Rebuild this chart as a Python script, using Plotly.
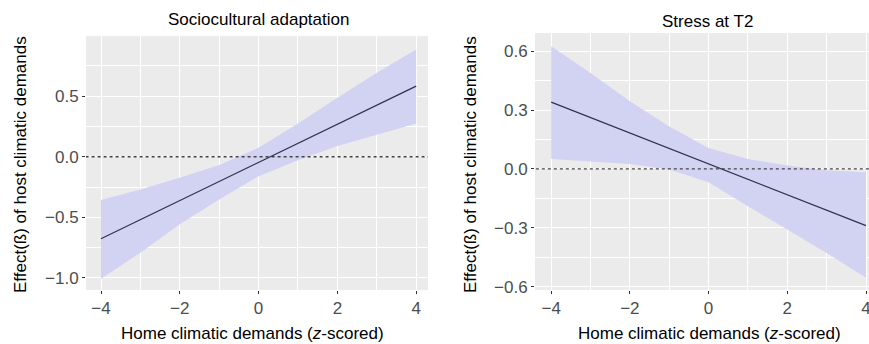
import plotly.graph_objects as go

# ---- data ----
x_vals = [-4, -3, -2, -1, 0, 1, 2, 3, 4]

socio_effect = [-0.677, -0.520, -0.362, -0.205, -0.047, 0.110, 0.268, 0.425, 0.583]
socio_upper = [-0.358, -0.270, -0.173, -0.069, 0.074, 0.275, 0.487, 0.693, 0.886]
socio_lower = [-1.007, -0.792, -0.558, -0.352, -0.160, -0.028, 0.088, 0.184, 0.275]

stress_effect = [0.341, 0.262, 0.183, 0.105, 0.026, -0.053, -0.132, -0.210, -0.289]
stress_upper = [0.625, 0.489, 0.345, 0.217, 0.107, 0.051, 0.017, -0.007, -0.017]
stress_lower = [0.051, 0.039, 0.025, -0.003, -0.068, -0.190, -0.309, -0.428, -0.555]

panel_titles = ["Sociocultural adaptation", "Stress at T2"]
x_title = "Home climatic demands (<i>z</i>-scored)"
y_title = "Effect(ß) of host climatic demands"

x_ticks = [-4, -2, 0, 2, 4]
x_ticktext = ["\u22124", "\u22122", "0", "2", "4"]
socio_yticks = [-1.0, -0.5, 0.0, 0.5]
socio_yticktext = ["\u22121.0", "\u22120.5", "0.0", "0.5"]
stress_yticks = [-0.6, -0.3, 0.0, 0.3, 0.6]
stress_yticktext = ["\u22120.6", "\u22120.3", "0.0", "0.3", "0.6"]

# ---- style ----
FONT = "Liberation Sans, Arial, sans-serif"
BAND = "#D2D2F2"
LINE = "#303050"
BG = "#EBEBEB"
TICKCOL = "#4D4D4D"

fig = go.Figure()

def add_panel(xa, ya, eff, up, lo):
    fig.add_trace(go.Scatter(x=x_vals, y=up, mode="lines", line=dict(width=0),
                             xaxis=xa, yaxis=ya, showlegend=False, hoverinfo="skip"))
    fig.add_trace(go.Scatter(x=x_vals, y=lo, mode="lines", line=dict(width=0),
                             fill="tonexty", fillcolor=BAND,
                             xaxis=xa, yaxis=ya, showlegend=False, hoverinfo="skip"))
    fig.add_trace(go.Scatter(x=[-5, 5], y=[0, 0], mode="lines",
                             line=dict(color="#444444", width=1.3, dash="3px,3px"),
                             xaxis=xa, yaxis=ya, showlegend=False, hoverinfo="skip"))
    fig.add_trace(go.Scatter(x=x_vals, y=eff, mode="lines",
                             line=dict(color=LINE, width=1.2),
                             xaxis=xa, yaxis=ya, showlegend=False))

add_panel("x", "y", socio_effect, socio_upper, socio_lower)
add_panel("x2", "y2", stress_effect, stress_upper, stress_lower)

def xaxis(domain, rng, anchor):
    return dict(domain=domain, range=rng, anchor=anchor, tickmode="array",
                tickvals=x_ticks, ticktext=x_ticktext, showgrid=True,
                gridcolor="white", gridwidth=1.1, zeroline=False,
                ticks="outside", ticklen=3, tickcolor="#333333", tickwidth=1,
                tickfont=dict(family=FONT, size=17, color=TICKCOL),
                minor=dict(tickmode="linear", tick0=-3, dtick=2, showgrid=True,
                           gridcolor="white", gridwidth=0.5, ticks=""),
                showline=False, fixedrange=True, automargin=False,
                ticklabeloverflow="allow")

def yaxis(domain, rng, anchor, tv, tt, minor0, mindt):
    return dict(domain=domain, range=rng, anchor=anchor, tickmode="array",
                tickvals=tv, ticktext=tt, showgrid=True,
                gridcolor="white", gridwidth=1.1, zeroline=False,
                ticks="outside", ticklen=3, tickcolor="#333333", tickwidth=1,
                tickfont=dict(family=FONT, size=17, color=TICKCOL),
                minor=dict(tickmode="linear", tick0=minor0, dtick=mindt, showgrid=True,
                           gridcolor="white", gridwidth=0.5, ticks=""),
                showline=False, fixedrange=True, automargin=False,
                ticklabeloverflow="allow")

fig.update_layout(
    width=869, height=344,
    margin=dict(l=0, r=0, t=0, b=0, autoexpand=False),
    paper_bgcolor="white", plot_bgcolor=BG,
    font=dict(family=FONT, size=16, color="black"),
    xaxis=xaxis([0.0990, 0.4925], [-4.38, 4.30], "y"),
    yaxis=yaxis([0.157, 0.895], [-1.10, 0.996], "x",
                socio_yticks, socio_yticktext, -0.75, 0.5),
    xaxis2=xaxis([0.6157, 1.0], [-4.41, 4.076], "y2"),
    yaxis2=yaxis([0.157, 0.904], [-0.617, 0.693], "x2",
                 stress_yticks, stress_yticktext, -0.45, 0.3),
    showlegend=False,
)

ann = []
# panel titles
ann.append(dict(text=panel_titles[0], x=258, y=20))
ann.append(dict(text=panel_titles[1], x=707, y=21))
# x axis titles
ann.append(dict(text=x_title, x=252, y=333))
ann.append(dict(text=x_title, x=709, y=333))
annotations = []
for a in ann:
    annotations.append(dict(text=a["text"], x=a["x"] / 869, y=1 - a["y"] / 344,
                            xref="paper", yref="paper", showarrow=False,
                            xanchor="center", yanchor="middle",
                            font=dict(family=FONT, size=17, color="black")))
# y axis titles
for xc, yc in [(20, 165), (470, 164)]:
    annotations.append(dict(text=y_title, x=xc / 869, y=1 - yc / 344,
                            xref="paper", yref="paper", showarrow=False,
                            textangle=-90, xanchor="center", yanchor="middle",
                            font=dict(family=FONT, size=17, color="black")))
fig.update_layout(annotations=annotations)

fig.write_html("out.html", config={"displayModeBar": False},
               post_script="document.body.style.margin='0px';document.body.style.overflow='hidden';")
